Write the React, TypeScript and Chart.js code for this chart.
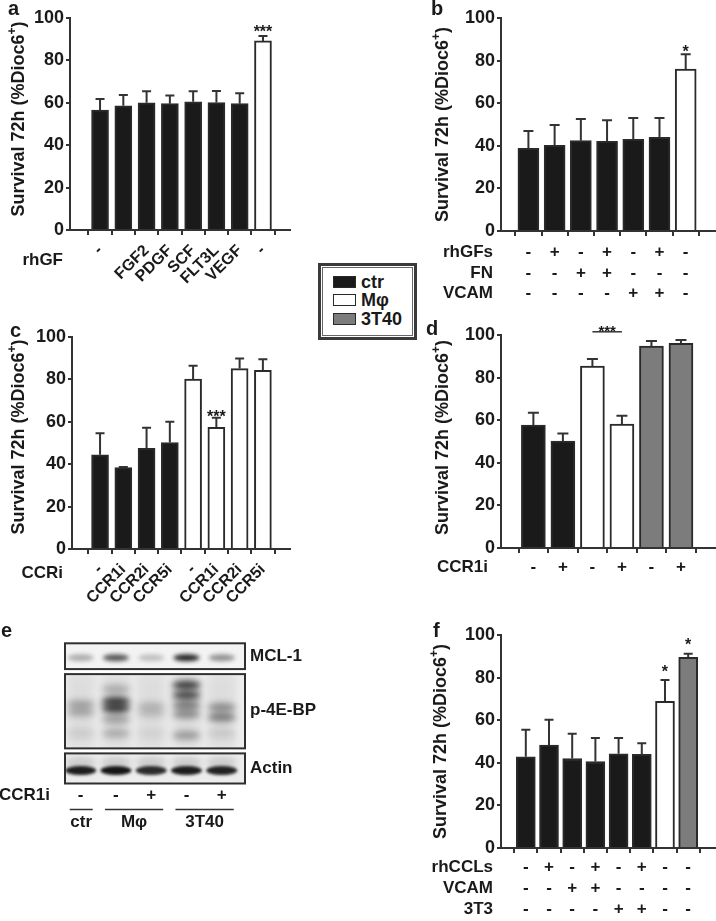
import React, { useEffect, useRef } from 'react';
import { Chart, registerables } from 'chart.js';

Chart.register(...registerables);

const FONT = '"Liberation Sans", Arial, Helvetica, sans-serif';
const TXT = '#1a1a1a';
const AXC = '#333333';
const FILL: Record<string, string> = { ctr: '#1a1a1a', mf: '#ffffff', t40: '#7c7c7c' };

const yTicks = [0, 20, 40, 60, 80, 100];

// ---- panel a ----
const aBarLabels = ['-', '', 'FGF2', 'PDGF', 'SCF', 'FLT3L', 'VEGF', '-'];
const aValues = [56.6, 58.6, 60.0, 59.6, 60.5, 60.1, 59.6, 89.2];
const aErrors = [5.2, 5.1, 5.4, 3.8, 4.9, 5.5, 4.9, 2.3];
const aGroups = ['ctr', 'ctr', 'ctr', 'ctr', 'ctr', 'ctr', 'ctr', 'mf'];

// ---- panel b ----
const bValues = [38.8, 40.2, 42.4, 42.1, 43.0, 44.0, 76.0];
const bErrors = [8.2, 9.6, 10.2, 9.9, 10.0, 9.0, 7.0];
const bGroups = ['ctr', 'ctr', 'ctr', 'ctr', 'ctr', 'ctr', 'mf'];
const bRhGFs = ['-', '+', '-', '+', '-', '+', '-'];
const bFN = ['-', '-', '+', '+', '-', '-', '-'];
const bVCAM = ['-', '-', '-', '-', '+', '+', '-'];

// ---- panel c ----
const cBarLabels = ['-', 'CCR1i', 'CCR2i', 'CCR5i', '-', 'CCR1i', 'CCR2i', 'CCR5i'];
const cValues = [44.4, 38.4, 47.5, 50.2, 80.1, 57.4, 85.1, 84.3];
const cErrors = [10.2, 0.3, 9.7, 9.8, 6.3, 4.5, 4.7, 5.2];
const cGroups = ['ctr', 'ctr', 'ctr', 'ctr', 'mf', 'mf', 'mf', 'mf'];

// ---- panel d ----
const dValues = [57.7, 50.2, 85.4, 58.2, 94.8, 96.1];
const dErrors = [5.8, 3.6, 3.3, 3.9, 2.4, 1.6];
const dGroups = ['ctr', 'ctr', 'mf', 'mf', 't40', 't40'];
const dCCR1i = ['-', '+', '-', '+', '-', '+'];

// ---- panel f ----
const fValues = [42.8, 48.3, 42.0, 40.6, 44.2, 44.0, 68.9, 89.5];
const fErrors = [12.7, 11.9, 11.6, 11.0, 7.4, 5.2, 10.0, 1.7];
const fGroups = ['ctr', 'ctr', 'ctr', 'ctr', 'ctr', 'ctr', 'mf', 't40'];
const fRhCCLs = ['-', '+', '-', '+', '-', '+', '-', '-'];
const fVCAM = ['-', '-', '+', '+', '-', '-', '-', '-'];
const f3T3 = ['-', '-', '-', '-', '+', '+', '-', '-'];

// ---- panel e (blot) ----
const blotCCR1i = ['-', '-', '+', '-', '+'];
const blotGroups = [
  { name: 'ctr', from: 0, to: 0 },
  { name: 'Mφ', from: 1, to: 2 },
  { name: '3T40', from: 3, to: 4 },
];
const mcl1Level = [0.3, 0.68, 0.22, 0.9, 0.42];
const actinLevel = [0.92, 0.96, 0.86, 0.92, 0.9];
const p4ebpBands: number[][][] = [
  [[61, 0.32], [69, 0.3], [90, 0.1]],
  [[46, 0.28], [58, 0.9], [65, 0.9], [76, 0.35], [90, 0.28]],
  [[63, 0.22], [70, 0.18], [90, 0.07]],
  [[42, 0.92], [52, 0.85], [62, 0.55], [71, 0.45], [92, 0.38]],
  [[64, 0.45], [74, 0.55], [90, 0.12]],
];

type Row = { name: string; signs: string[]; dy: number };
type Star = { bar: number; y: number; text: string };
type PanelCfg = {
  left: number; top: number; width: number; height: number;
  plot: { l: number; t: number; b: number; r: number };
  xMin: number; xMax: number;
  values: number[]; errors: number[]; groups: string[];
  barW: number; capW: number;
  rotLabels?: string[]; rotDy?: number;
  rows: Row[]; rowNameDx: number;
  stars: Star[];
  sig?: { from: number; to: number; y: number; starY: number };
  titleDx: number; titleDy: number;
};

function drawTitle(ctx: CanvasRenderingContext2D, x: number, y: number) {
  const main = 'Survival 72h (%Dioc6';
  const sup = '+';
  const end = ')';
  ctx.save();
  ctx.translate(x, y);
  ctx.rotate(-Math.PI / 2);
  ctx.fillStyle = TXT;
  ctx.textBaseline = 'middle';
  ctx.textAlign = 'left';
  ctx.font = `bold 18px ${FONT}`;
  const w1 = ctx.measureText(main).width;
  const w3 = ctx.measureText(end).width;
  ctx.font = `bold 12px ${FONT}`;
  const w2 = ctx.measureText(sup).width;
  const start = -(w1 + w2 + w3) / 2;
  ctx.font = `bold 18px ${FONT}`;
  ctx.fillText(main, start, 0);
  ctx.font = `bold 12px ${FONT}`;
  ctx.fillText(sup, start + w1, -6);
  ctx.font = `bold 18px ${FONT}`;
  ctx.fillText(end, start + w1 + w2, 0);
  ctx.restore();
}

function decor(p: PanelCfg) {
  return {
    id: 'decor',
    afterDatasetsDraw(chart: any) {
      const ctx: CanvasRenderingContext2D = chart.ctx;
      const xs = chart.scales.x;
      const ys = chart.scales.y;
      ctx.save();
      ctx.strokeStyle = AXC;
      ctx.lineWidth = 2;
      p.values.forEach((v, i) => {
        const x = xs.getPixelForValue(i);
        const y0 = ys.getPixelForValue(v);
        const y1 = ys.getPixelForValue(v + p.errors[i]);
        ctx.beginPath();
        ctx.moveTo(x, y0);
        ctx.lineTo(x, y1);
        ctx.moveTo(x - p.capW / 2, y1);
        ctx.lineTo(x + p.capW / 2, y1);
        ctx.stroke();
      });
      ctx.restore();
    },
    afterDraw(chart: any) {
      const ctx: CanvasRenderingContext2D = chart.ctx;
      const xs = chart.scales.x;
      const ys = chart.scales.y;
      const ca = chart.chartArea;
      ctx.save();
      ctx.fillStyle = TXT;
      if (p.rotLabels) {
        ctx.font = `bold 16px ${FONT}`;
        ctx.textAlign = 'right';
        ctx.textBaseline = 'middle';
        p.rotLabels.forEach((s, i) => {
          if (!s) return;
          const x = xs.getPixelForValue(i);
          ctx.save();
          ctx.translate(x, ca.bottom + (p.rotDy || 18));
          ctx.rotate(-Math.PI / 4);
          ctx.fillText(s, 0, 0);
          ctx.restore();
        });
      }
      p.rows.forEach((r) => {
        ctx.font = `bold 17px ${FONT}`;
        ctx.textBaseline = 'middle';
        ctx.textAlign = 'right';
        ctx.fillText(r.name, ca.left + p.rowNameDx, ca.bottom + r.dy);
        ctx.textAlign = 'center';
        r.signs.forEach((s, i) => {
          ctx.fillText(s, xs.getPixelForValue(i), ca.bottom + r.dy);
        });
      });
      ctx.font = `bold 16px ${FONT}`;
      ctx.textAlign = 'center';
      ctx.textBaseline = 'alphabetic';
      p.stars.forEach((s) => {
        ctx.fillText(s.text, xs.getPixelForValue(s.bar), ys.getPixelForValue(s.y) + 9);
      });
      if (p.sig) {
        const x0 = xs.getPixelForValue(p.sig.from);
        const x1 = xs.getPixelForValue(p.sig.to);
        const y = ys.getPixelForValue(p.sig.y);
        ctx.strokeStyle = AXC;
        ctx.lineWidth = 1.5;
        ctx.beginPath();
        ctx.moveTo(x0, y);
        ctx.lineTo(x1, y);
        ctx.stroke();
        ctx.font = `bold 15px ${FONT}`;
        ctx.fillText('***', (x0 + x1) / 2, ys.getPixelForValue(p.sig.starY) + 8);
      }
      drawTitle(ctx, ca.left + p.titleDx, (ca.top + ca.bottom) / 2 + p.titleDy);
      ctx.restore();
    },
  };
}

function BarPanel({ p }: { p: PanelCfg }) {
  const ref = useRef<HTMLCanvasElement>(null);
  useEffect(() => {
    const canvas = ref.current!;
    const padTop = p.plot.t - p.top;
    const axisW = p.plot.l - p.left;
    const xAxisH = p.top + p.height - p.plot.b;
    const padRight = p.left + p.width - p.plot.r;
    const chart = new Chart(canvas, {
      type: 'bar',
      data: {
        datasets: [
          {
            data: p.values.map((v, i) => ({ x: i, y: v })),
            backgroundColor: p.groups.map((g) => FILL[g]),
            borderColor: '#2a2a2a',
            borderWidth: 2,
            barThickness: p.barW,
            borderSkipped: 'bottom',
          } as any,
        ],
      },
      options: {
        responsive: false,
        animation: false,
        devicePixelRatio: 1,
        layout: { padding: { top: padTop, right: padRight, left: 0, bottom: 0 } },
        plugins: { legend: { display: false }, tooltip: { enabled: false } },
        scales: {
          x: {
            type: 'linear',
            min: p.xMin,
            max: p.xMax,
            afterBuildTicks: (s: any) => {
              s.ticks = p.values.map((_, i) => ({ value: i }));
            },
            afterFit: (s: any) => {
              s.height = xAxisH;
            },
            ticks: { display: false },
            grid: { drawOnChartArea: false, drawTicks: true, tickLength: 5, color: AXC, lineWidth: 2 },
            border: { display: true, color: AXC, width: 2 },
          },
          y: {
            type: 'linear',
            min: 0,
            max: 100,
            afterBuildTicks: (s: any) => {
              s.ticks = yTicks.map((v) => ({ value: v }));
            },
            afterFit: (s: any) => {
              s.width = axisW;
            },
            ticks: { font: { family: FONT, size: 18, weight: 'bold' }, color: TXT, padding: 2 },
            grid: { drawOnChartArea: false, drawTicks: true, tickLength: 4, color: AXC, lineWidth: 2 },
            border: { display: true, color: AXC, width: 2 },
          },
        },
      } as any,
      plugins: [decor(p)],
    });
    return () => chart.destroy();
  }, []);
  return (
    <canvas
      ref={ref}
      width={p.width}
      height={p.height}
      style={{ position: 'absolute', left: p.left, top: p.top, width: p.width, height: p.height }}
    />
  );
}

const mcl1Box = [0.3, 26];
const p4Box = [31, 105];
const actinBox = [110, 140];

const blotPlugin = {
  id: 'blot',
  afterDraw(chart: any) {
    const ctx: CanvasRenderingContext2D = chart.ctx;
    const xs = chart.scales.x;
    const ys = chart.scales.y;
    const ca = chart.chartArea;
    const bx0 = ca.left;
    const bx1 = ca.right;
    const band = (x: number, y: number, hw: number, hh: number, a: number, blur: number) => {
      ctx.save();
      ctx.filter = `blur(${blur}px)`;
      ctx.fillStyle = `rgba(12,12,12,${a})`;
      ctx.beginPath();
      ctx.ellipse(x, y, hw, hh, 0, 0, Math.PI * 2);
      ctx.fill();
      ctx.restore();
    };
    const boxes = [
      { b: mcl1Box, bg: '#f3f3f3' },
      { b: p4Box, bg: '#eeeeee' },
      { b: actinBox, bg: '#ececec' },
    ];
    boxes.forEach((bx, k) => {
      const y0 = ys.getPixelForValue(bx.b[0]);
      const y1 = ys.getPixelForValue(bx.b[1]);
      ctx.save();
      ctx.beginPath();
      ctx.rect(bx0, y0, bx1 - bx0, y1 - y0);
      ctx.clip();
      ctx.fillStyle = bx.bg;
      ctx.fillRect(bx0, y0, bx1 - bx0, y1 - y0);
      blotCCR1i.forEach((_, i) => {
        const x = xs.getPixelForValue(i);
        if (k === 0) {
          band(x, ys.getPixelForValue(14.7), 13, 3.5, mcl1Level[i], 2.2);
        } else if (k === 1) {
          ctx.save();
          ctx.filter = 'blur(5px)';
          ctx.fillStyle = 'rgba(0,0,0,0.07)';
          ctx.fillRect(x - 14, y0, 28, y1 - y0);
          ctx.restore();
          p4ebpBands[i].forEach(([pos, a]) => {
            band(x, ys.getPixelForValue(pos), 14, 4.5, a * 0.85, 3.2);
          });
        } else {
          band(x, ys.getPixelForValue(119), 15, 6, 0.14, 3);
          band(x, ys.getPixelForValue(127), 15.5, 4.5, actinLevel[i], 1.8);
        }
      });
      ctx.restore();
      ctx.strokeStyle = '#2f2f2f';
      ctx.lineWidth = 2;
      ctx.strokeRect(bx0, y0, bx1 - bx0, y1 - y0);
    });
    ctx.save();
    ctx.fillStyle = TXT;
    ctx.font = `bold 17px ${FONT}`;
    ctx.textAlign = 'left';
    ctx.textBaseline = 'middle';
    ctx.fillText('MCL-1', bx1 + 5, ys.getPixelForValue(13));
    ctx.fillText('p-4E-BP', bx1 + 5, ys.getPixelForValue(67));
    ctx.fillText('Actin', bx1 + 5, ys.getPixelForValue(125));
    const rowY = ca.bottom + 11.5;
    ctx.textAlign = 'right';
    ctx.fillText('CCR1i', bx0 - 15, rowY);
    ctx.textAlign = 'center';
    blotCCR1i.forEach((s, i) => ctx.fillText(s, xs.getPixelForValue(i), rowY));
    ctx.strokeStyle = AXC;
    ctx.lineWidth = 1.5;
    blotGroups.forEach((g) => {
      const a = xs.getPixelForValue(g.from);
      const b = xs.getPixelForValue(g.to);
      ctx.beginPath();
      ctx.moveTo(a - 11, ca.bottom + 26);
      ctx.lineTo(b + 12, ca.bottom + 26);
      ctx.stroke();
      ctx.fillText(g.name, (a + b) / 2 + 0.5, ca.bottom + 38.5);
    });
    ctx.restore();
  },
};

function BlotPanel() {
  const ref = useRef<HTMLCanvasElement>(null);
  useEffect(() => {
    const chart = new Chart(ref.current!, {
      type: 'scatter',
      data: { datasets: [{ data: blotCCR1i.map((_, i) => ({ x: i, y: 0 })), pointRadius: 0 }] },
      options: {
        responsive: false,
        animation: false,
        devicePixelRatio: 1,
        layout: { padding: { left: 65, right: 95, top: 23, bottom: 46.5 } },
        plugins: { legend: { display: false }, tooltip: { enabled: false } },
        scales: {
          x: { type: 'linear', display: false, min: -0.445, max: 4.66 },
          y: { type: 'linear', display: false, min: 0, max: 140, reverse: true },
        },
      } as any,
      plugins: [blotPlugin],
    });
    return () => chart.destroy();
  }, []);
  return (
    <canvas
      ref={ref}
      width={340}
      height={210}
      style={{ position: 'absolute', left: 0, top: 620, width: 340, height: 210 }}
    />
  );
}

const panelA: PanelCfg = {
  left: 0, top: 0, width: 300, height: 300,
  plot: { l: 70, t: 18, b: 230, r: 290 },
  xMin: -0.7, xMax: 7.57,
  values: aValues, errors: aErrors, groups: aGroups,
  barW: 17, capW: 9,
  rotLabels: aBarLabels, rotDy: 18,
  rows: [{ name: 'rhGF', signs: [], dy: 30 }], rowNameDx: -7,
  stars: [{ bar: 7, y: 95.3, text: '***' }],
  titleDx: -51, titleDy: -5,
};
const panelB: PanelCfg = {
  left: 400, top: 0, width: 316, height: 310,
  plot: { l: 501, t: 18, b: 231, r: 716 },
  xMin: -0.46, xMax: 6.57,
  values: bValues, errors: bErrors, groups: bGroups,
  barW: 21, capW: 10,
  rows: [
    { name: 'rhGFs', signs: bRhGFs, dy: 21 },
    { name: 'FN', signs: bFN, dy: 42 },
    { name: 'VCAM', signs: bVCAM, dy: 62 },
  ],
  rowNameDx: -8,
  stars: [{ bar: 6, y: 85.8, text: '*' }],
  titleDx: -58, titleDy: 0,
};
const panelC: PanelCfg = {
  left: 0, top: 310, width: 300, height: 305,
  plot: { l: 72, t: 337, b: 549, r: 290 },
  xMin: -0.62, xMax: 7.58,
  values: cValues, errors: cErrors, groups: cGroups,
  barW: 17, capW: 9,
  rotLabels: cBarLabels, rotDy: 18,
  rows: [{ name: 'CCRi', signs: [], dy: 24 }], rowNameDx: -9,
  stars: [{ bar: 5, y: 64.3, text: '***' }],
  titleDx: -53, titleDy: -6,
};
const panelD: PanelCfg = {
  left: 400, top: 315, width: 316, height: 265,
  plot: { l: 501, t: 335, b: 548, r: 716 },
  xMin: -0.49, xMax: 5.58,
  values: dValues, errors: dErrors, groups: dGroups,
  barW: 24, capW: 11,
  rows: [{ name: 'CCR1i', signs: dCCR1i, dy: 19 }], rowNameDx: -13,
  stars: [],
  sig: { from: 2, to: 3, y: 101.5, starY: 103.2 },
  titleDx: -58, titleDy: -4,
};
const panelF: PanelCfg = {
  left: 400, top: 620, width: 316, height: 301,
  plot: { l: 501, t: 635, b: 848, r: 716 },
  xMin: -0.49, xMax: 7.62,
  values: fValues, errors: fErrors, groups: fGroups,
  barW: 19, capW: 9,
  rows: [
    { name: 'rhCCLs', signs: fRhCCLs, dy: 19 },
    { name: 'VCAM', signs: fVCAM, dy: 40 },
    { name: '3T3', signs: f3T3, dy: 61 },
  ],
  rowNameDx: -8,
  stars: [
    { bar: 6, y: 84.7, text: '*' },
    { bar: 7, y: 97.3, text: '*' },
  ],
  titleDx: -60, titleDy: 0,
};

const letterStyle = (left: number, top: number): React.CSSProperties => ({
  position: 'absolute', left, top, font: `bold 20px ${FONT}`, lineHeight: '20px', color: TXT,
});

const legendItems = [
  { name: 'ctr', color: FILL.ctr },
  { name: 'Mφ', color: FILL.mf },
  { name: '3T40', color: FILL.t40 },
];

export default function App() {
  return (
    <div style={{ position: 'absolute', left: 0, top: 0, width: 716, height: 921, background: '#fff', overflow: 'hidden' }}>
      <BlotPanel />
      <BarPanel p={panelA} />
      <BarPanel p={panelB} />
      <BarPanel p={panelC} />
      <BarPanel p={panelD} />
      <BarPanel p={panelF} />
      <div style={letterStyle(8, -2)}>a</div>
      <div style={letterStyle(431, -2)}>b</div>
      <div style={letterStyle(10, 320)}>c</div>
      <div style={letterStyle(426, 318)}>d</div>
      <div style={letterStyle(1, 620)}>e</div>
      <div style={letterStyle(433, 620)}>f</div>
      <div
        style={{
          position: 'absolute', left: 318, top: 263, width: 99, height: 77, boxSizing: 'border-box',
          border: '3px solid #3a3a3a', background: '#fff',
        }}
      >
        <div style={{ position: 'absolute', left: 1, top: 1, right: 1, bottom: 1, border: '1px solid #666' }} />
        {legendItems.map((it, i) => (
          <div key={it.name} style={{ position: 'absolute', left: 12, top: 10 + i * 18.4, height: 12, display: 'flex', alignItems: 'center' }}>
            <div style={{ width: 23, height: 12, boxSizing: 'border-box', background: it.color, border: '1.5px solid #2a2a2a' }} />
            <div style={{ marginLeft: 5, font: `bold 18px ${FONT}`, color: TXT, lineHeight: '12px' }}>{it.name}</div>
          </div>
        ))}
      </div>
    </div>
  );
}
